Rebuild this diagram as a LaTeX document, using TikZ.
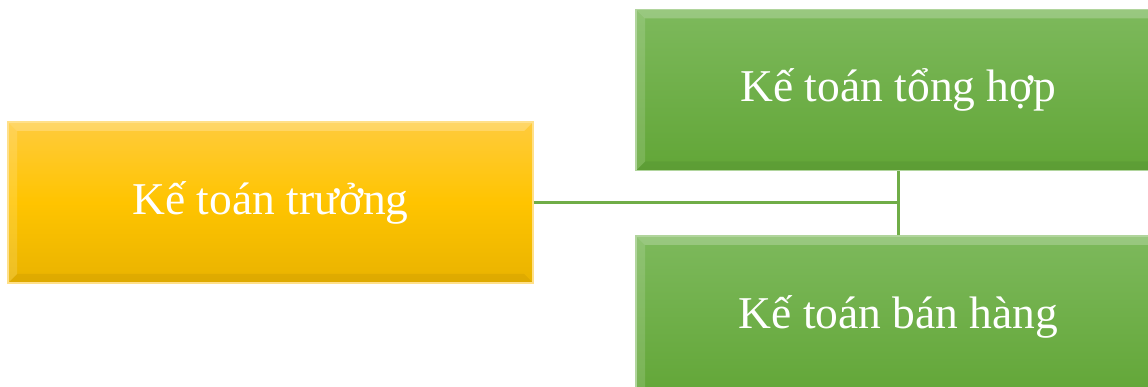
\documentclass[tikz,border=0pt]{standalone}
\usepackage{fontspec}
\setmainfont{Liberation Serif}
\usepackage{xcolor}
\usetikzlibrary{positioning}

\definecolor{goldtop}{HTML}{FFCB3C}
\definecolor{goldmid}{HTML}{FFC400}
\definecolor{goldbot}{HTML}{E9B300}
\definecolor{greentop}{HTML}{7DB95C}
\definecolor{greenbot}{HTML}{62A637}
\definecolor{linkgreen}{HTML}{70AD47}

\tikzset{
    box/.style={rectangle, minimum width=525pt, minimum height=161pt, inner sep=0pt,
        text=white, font=\fontsize{45.5}{50}\selectfont,
        path picture={
            % bevel edges
            \fill[white, opacity=0.22] (path picture bounding box.north west) -- (path picture bounding box.north east)
                -- ([shift={(-9pt,-9pt)}]path picture bounding box.north east) -- ([shift={(9pt,-9pt)}]path picture bounding box.north west) -- cycle;
            \fill[white, opacity=0.14] (path picture bounding box.north west) -- ([shift={(9pt,-9pt)}]path picture bounding box.north west)
                -- ([shift={(9pt,9pt)}]path picture bounding box.south west) -- (path picture bounding box.south west) -- cycle;
            \fill[black, opacity=0.05] (path picture bounding box.south west) -- (path picture bounding box.south east)
                -- ([shift={(-9pt,9pt)}]path picture bounding box.south east) -- ([shift={(9pt,9pt)}]path picture bounding box.south west) -- cycle;
        }},
    chief/.style={box, draw=goldtop!60!white, line width=1.2pt,
        top color=goldtop, bottom color=goldbot, middle color=goldmid},
    staff/.style={box, draw=greentop!60!white, line width=1.2pt,
        top color=greentop, bottom color=greenbot},
    link/.style={draw=linkgreen, line width=3pt}
}

\begin{document}
\begin{tikzpicture}[x=1pt, y=-1pt]
    \useasboundingbox (0,0) rectangle (1148,387);
    \clip (0,0) rectangle (1148,387);
    % boxes
    \node[chief] (truong) at (270.5,202.5) {Kế toán trưởng};
    \node[staff] (tonghop) at (898.5,90) {Kế toán tổng hợp};
    \node[staff] (banhang) at (898.5,316.5) {Kế toán bán hàng};
    % connectors
    \coordinate (nga) at (truong.east -| tonghop.south);
    \draw[link] (truong.east) -- (nga);
    \draw[link] (tonghop.south) -- (banhang.north);
\end{tikzpicture}
\end{document}
